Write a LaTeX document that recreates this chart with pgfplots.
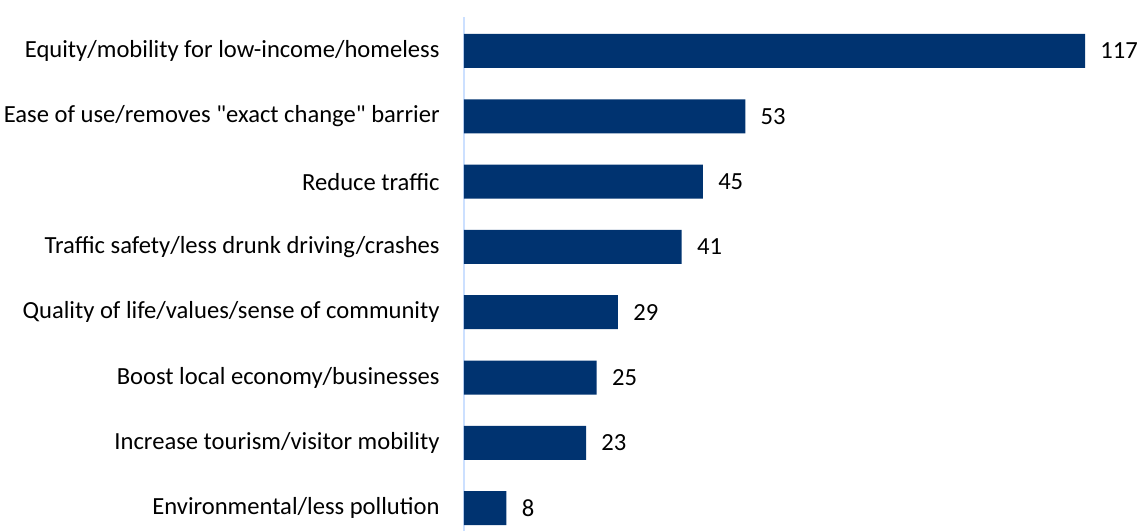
\documentclass[border=0pt]{standalone}
\usepackage{pgfplots}
\pgfplotsset{compat=1.18}
\usepackage{fontspec}
\setmainfont{Carlito}[Ligatures=TeXOff]
\definecolor{barblue}{HTML}{003370}
\definecolor{axblue}{HTML}{CCE0FF}
\begin{document}
\begin{tikzpicture}
\begin{axis}[
  at={(0,0)}, anchor=south west,
  scale only axis,
  width=318.5pt, height=257pt,
  xbar, bar width=17pt,
  xmin=0, xmax=120,
  ymin=-0.35, ymax=7.52,
  hide x axis,
  axis y line*=left,
  y axis line style={axblue, line width=1.2pt, -},
  ytick={0,...,7},
  yticklabels={Environmental/less pollution,Increase tourism/visitor mobility,Boost local economy/businesses,Quality of life/values/sense of community,Traffic safety/less drunk driving/crashes,Reduce traffic,Ease of use/removes "exact change" barrier,Equity/mobility for low-income/homeless},
  major tick length=0pt,
  yticklabel style={anchor=east, inner sep=0pt, xshift=-12pt, font=\fontsize{12.3}{14}\selectfont, text=black},
  nodes near coords,
  /pgf/number format/assume math mode=true,
  nodes near coords style={anchor=west, inner sep=0pt, xshift=7.5pt, font=\fontsize{12.3}{14}\selectfont, text=black},
  clip=false,
]
\addplot[fill=barblue, draw=none] coordinates {(8,0) (23,1) (25,2) (29,3) (41,4) (45,5) (53,6) (117,7)};
\end{axis}
\pgfresetboundingbox
\useasboundingbox (-232pt,0) rectangle (336.5pt,265.5pt);
\end{tikzpicture}
\end{document}
